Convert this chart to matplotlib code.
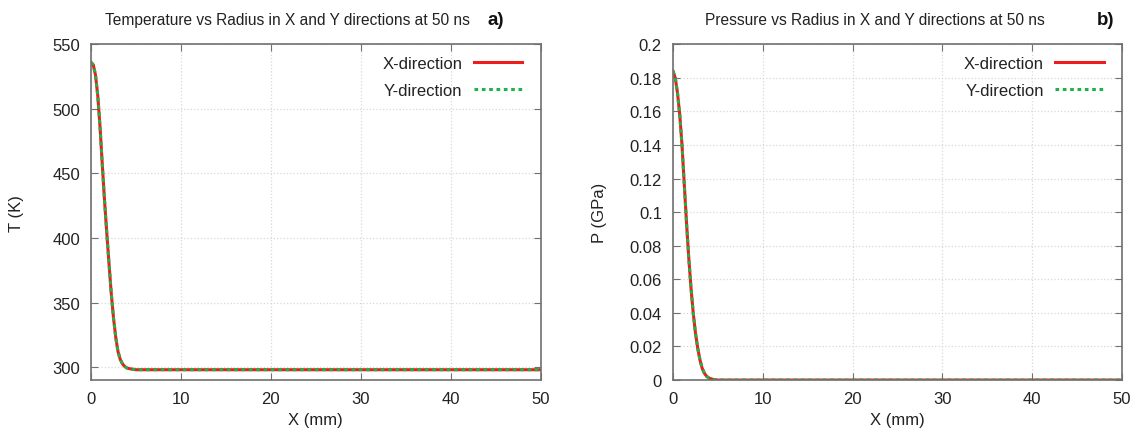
import matplotlib
matplotlib.use("Agg")
import matplotlib.pyplot as plt

plt.rcParams['font.family'] = ['Liberation Sans', 'DejaVu Sans']

# Radius (mm) sample points
x_mm = [0, 0.25, 0.5, 0.75, 1.0, 1.25, 1.5, 1.75, 2.0, 2.25, 2.5, 2.75, 3.0,
        3.25, 3.5, 3.75, 4.0, 4.5, 5.0, 10, 20, 30, 40, 50]
# Temperature (K)
temp_x = [536, 534, 526, 510, 486, 457, 429, 404, 380, 357, 338, 323, 312,
          306, 302.5, 300.5, 299.3, 298.5, 298, 298, 298, 298, 298, 298]
temp_y = list(temp_x)
# Pressure (GPa)
pres_x = [0.184, 0.180, 0.171, 0.158, 0.140, 0.117, 0.094, 0.073, 0.055,
          0.040, 0.028, 0.019, 0.012, 0.007, 0.004, 0.0022, 0.0012, 0.0003,
          0.0, 0.0, 0.0, 0.0, 0.0, 0.0]
pres_y = list(pres_x)

x_ticks = [0, 10, 20, 30, 40, 50]
t_ticks = [300, 350, 400, 450, 500, 550]
p_ticks = [0, 0.02, 0.04, 0.06, 0.08, 0.1, 0.12, 0.14, 0.16, 0.18, 0.2]
p_tick_labels = ['0', '0.02', '0.04', '0.06', '0.08', '0.1', '0.12', '0.14',
                 '0.16', '0.18', '0.2']

fig = plt.figure(figsize=(11.38, 4.35), dpi=100)
axL = fig.add_axes([0.080, 0.124, 0.395, 0.772])
axR = fig.add_axes([0.5914, 0.124, 0.3946, 0.772])

red = '#ee1c1c'
green = '#1db34a'
spine_c = '#707070'

def style(ax):
    for s in ax.spines.values():
        s.set_color(spine_c)
        s.set_linewidth(1.2)
    ax.tick_params(direction='in', top=True, right=True, length=5,
                   color=spine_c, labelsize=12, pad=8, labelcolor='#222222')
    ax.grid(True, color='#d8d8d8', linestyle=':', linewidth=0.9)
    ax.set_axisbelow(True)

for ax, yx, yy in [(axL, temp_x, temp_y), (axR, pres_x, pres_y)]:
    ax.plot(x_mm, yx, color=red, lw=2.2, label='X-direction')
    ax.plot(x_mm, yy, color=green, lw=2.2, linestyle=(0, (1.2, 1.2)),
            label='Y-direction')
    style(ax)
    ax.set_xlim(0, 50)
    ax.set_xticks(x_ticks)
    ax.set_xlabel('X (mm)', fontsize=12, labelpad=4, color='#222222')
    ax.legend(loc='upper right', frameon=False, markerfirst=False,
              fontsize=12, handlelength=2.9, labelspacing=0.72,
              handletextpad=0.7, borderaxespad=0.3,
              bbox_to_anchor=(0.985, 1.0), labelcolor='#222222')

axL.set_ylim(290, 550)
axL.set_yticks(t_ticks)
axL.set_ylabel('T (K)', fontsize=12, labelpad=20, color='#222222')

axR.set_ylim(0, 0.2)
axR.set_yticks(p_ticks)
axR.set_yticklabels(p_tick_labels)
axR.set_ylabel('P (GPa)', fontsize=12, labelpad=16, color='#222222')

fig.text(0.2527, 0.954, 'Temperature vs Radius in X and Y directions at 50 ns',
         ha='center', va='center', fontsize=11.2, color='#222222')
fig.text(0.4288, 0.954, 'a)', ha='left', va='center', fontsize=13.5,
         fontweight='bold', color='#111111')
fig.text(0.769, 0.954, 'Pressure vs Radius in X and Y directions at 50 ns',
         ha='center', va='center', fontsize=11.2, color='#222222')
fig.text(0.964, 0.954, 'b)', ha='left', va='center', fontsize=13.5,
         fontweight='bold', color='#111111')

fig.savefig('out.png', dpi=100, facecolor='white')
